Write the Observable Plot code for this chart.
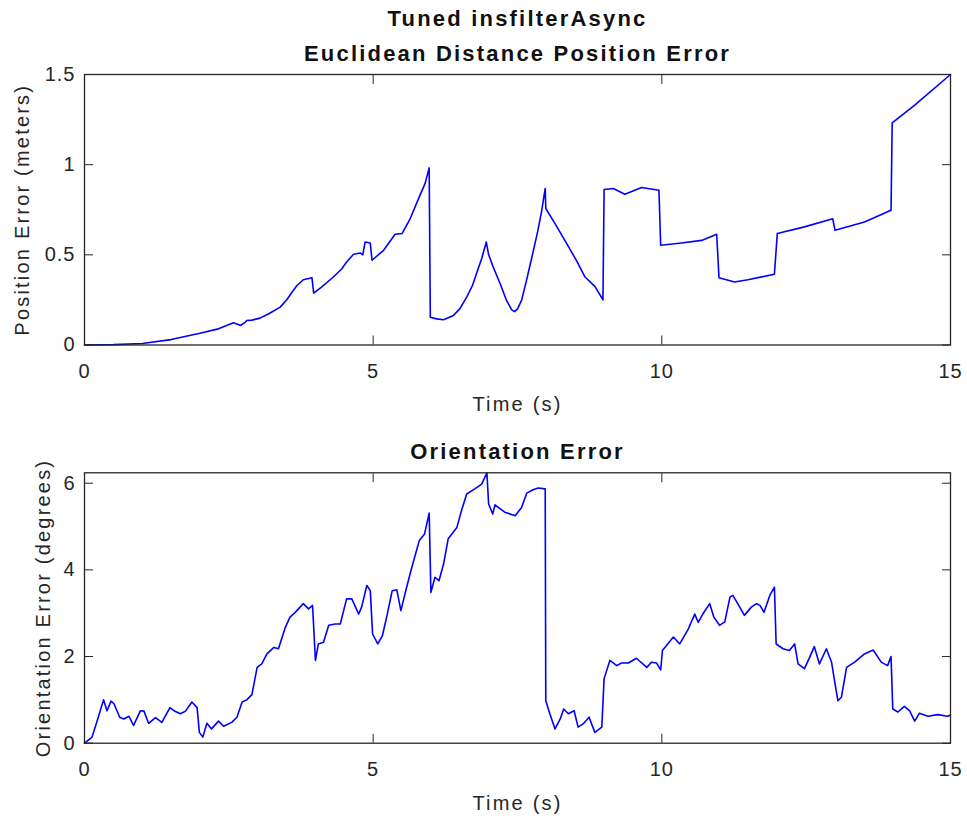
<!DOCTYPE html>
<html>
<head>
<meta charset="utf-8">
<script src="https://cdn.jsdelivr.net/npm/d3@7"></script>
<script src="https://cdn.jsdelivr.net/npm/@observablehq/plot@0.6"></script>
<style>
  html, body { margin: 0; padding: 0; background: #fff; }
  #chart { width: 967px; height: 818px; }
  #chart svg { display: block; }
</style>
</head>
<body>
<div id="chart"></div>
<script>
// ---- data ----
const suptitle = "Tuned insfilterAsync";
const posTitle = "Euclidean Distance Position Error";
const oriTitle = "Orientation Error";
const xLabel = "Time (s)";
const posLabel = "Position Error (meters)";
const oriLabel = "Orientation Error (degrees)";

const xTicks = [0, 5, 10, 15];
const posTicks = [0, 0.5, 1, 1.5];
const oriTicks = [0, 2, 4, 6];

const posTime = [0, 0.5, 1.0, 1.5, 2.0, 2.3, 2.58, 2.65, 2.70, 2.78, 2.81, 2.9, 3.04, 3.2, 3.39, 3.5, 3.6, 3.68, 3.79, 3.94, 3.97, 4.1, 4.31, 4.45, 4.54, 4.66, 4.78, 4.82, 4.86, 4.95, 4.98, 5.18, 5.38, 5.50, 5.64, 5.81, 5.90, 5.97, 5.99, 6.1, 6.22, 6.39, 6.5, 6.62, 6.72, 6.79, 6.88, 6.96, 7.0, 7.08, 7.2, 7.31, 7.4, 7.45, 7.5, 7.57, 7.65, 7.75, 7.85, 7.92, 7.98, 7.99, 8.15, 8.32, 8.52, 8.67, 8.84, 8.98, 9.00, 9.16, 9.36, 9.65, 9.95, 9.98, 10.34, 10.69, 10.95, 10.99, 11.26, 11.49, 11.95, 12.00, 12.47, 12.96, 13.00, 13.51, 13.97, 13.99, 14.38, 15.00];
const posErr = [0, 0.002, 0.008, 0.03, 0.065, 0.088, 0.123, 0.115, 0.108, 0.125, 0.136, 0.138, 0.149, 0.175, 0.21, 0.25, 0.295, 0.33, 0.362, 0.373, 0.288, 0.32, 0.377, 0.42, 0.46, 0.503, 0.51, 0.50, 0.571, 0.566, 0.47, 0.525, 0.614, 0.618, 0.70, 0.83, 0.896, 0.982, 0.154, 0.145, 0.14, 0.164, 0.20, 0.266, 0.33, 0.396, 0.48, 0.571, 0.50, 0.432, 0.34, 0.247, 0.195, 0.185, 0.20, 0.247, 0.35, 0.488, 0.63, 0.747, 0.868, 0.757, 0.673, 0.58, 0.469, 0.377, 0.325, 0.251, 0.862, 0.868, 0.836, 0.873, 0.858, 0.553, 0.566, 0.58, 0.614, 0.373, 0.349, 0.362, 0.392, 0.618, 0.655, 0.70, 0.636, 0.682, 0.747, 1.232, 1.33, 1.5];

const oriTime = [0, 0.13, 0.22, 0.33, 0.39, 0.46, 0.51, 0.61, 0.68, 0.77, 0.85, 0.97, 1.03, 1.11, 1.23, 1.34, 1.48, 1.55, 1.66, 1.75, 1.86, 1.95, 1.99, 2.05, 2.12, 2.20, 2.32, 2.41, 2.55, 2.64, 2.73, 2.81, 2.90, 2.99, 3.07, 3.16, 3.28, 3.36, 3.48, 3.56, 3.65, 3.79, 3.88, 3.95, 4.00, 4.05, 4.14, 4.23, 4.34, 4.43, 4.54, 4.63, 4.75, 4.80, 4.89, 4.95, 4.99, 5.08, 5.16, 5.24, 5.33, 5.41, 5.48, 5.58, 5.67, 5.80, 5.89, 5.97, 6.00, 6.07, 6.14, 6.22, 6.30, 6.45, 6.53, 6.62, 6.76, 6.88, 6.97, 7.00, 7.07, 7.11, 7.28, 7.46, 7.57, 7.66, 7.77, 7.86, 7.98, 7.99, 8.06, 8.15, 8.24, 8.30, 8.38, 8.48, 8.55, 8.64, 8.74, 8.84, 8.96, 9.00, 9.10, 9.22, 9.30, 9.42, 9.56, 9.74, 9.82, 9.91, 9.98, 10.01, 10.20, 10.31, 10.46, 10.57, 10.63, 10.71, 10.83, 10.90, 11.00, 11.09, 11.18, 11.23, 11.35, 11.43, 11.55, 11.64, 11.70, 11.77, 11.87, 11.95, 11.98, 12.10, 12.21, 12.30, 12.36, 12.47, 12.56, 12.64, 12.73, 12.85, 12.94, 13.00, 13.05, 13.11, 13.20, 13.34, 13.51, 13.66, 13.80, 13.91, 13.97, 14.00, 14.09, 14.20, 14.29, 14.38, 14.46, 14.61, 14.78, 14.95, 15.00];
const oriErr = [0, 0.14, 0.52, 1.0, 0.75, 0.97, 0.91, 0.60, 0.56, 0.62, 0.41, 0.75, 0.74, 0.46, 0.59, 0.48, 0.82, 0.75, 0.68, 0.74, 0.95, 0.82, 0.25, 0.14, 0.46, 0.33, 0.51, 0.39, 0.48, 0.60, 0.95, 1.0, 1.12, 1.75, 1.83, 2.06, 2.21, 2.18, 2.68, 2.91, 3.02, 3.22, 3.10, 3.18, 1.91, 2.29, 2.33, 2.72, 2.75, 2.75, 3.33, 3.33, 2.98, 3.14, 3.64, 3.52, 2.52, 2.29, 2.48, 2.95, 3.52, 3.54, 3.06, 3.60, 4.06, 4.68, 4.83, 5.31, 3.48, 3.83, 3.75, 4.14, 4.72, 4.98, 5.37, 5.75, 5.87, 5.98, 6.24, 5.52, 5.29, 5.50, 5.33, 5.25, 5.44, 5.77, 5.85, 5.89, 5.87, 0.98, 0.68, 0.33, 0.56, 0.79, 0.68, 0.75, 0.37, 0.45, 0.60, 0.25, 0.37, 1.49, 1.91, 1.79, 1.85, 1.85, 1.96, 1.75, 1.87, 1.85, 1.69, 2.14, 2.45, 2.29, 2.64, 2.98, 2.79, 2.98, 3.22, 2.91, 2.72, 2.80, 3.37, 3.41, 3.14, 2.95, 3.14, 3.22, 3.18, 3.02, 3.41, 3.60, 2.29, 2.18, 2.14, 2.29, 1.83, 1.72, 1.98, 2.23, 1.83, 2.18, 1.87, 1.37, 0.98, 1.06, 1.75, 1.87, 2.06, 2.15, 1.87, 1.79, 2.00, 0.79, 0.72, 0.85, 0.75, 0.51, 0.69, 0.62, 0.66, 0.62, 0.65];

// ---- styling ----
const axisColor = "#262626";
const lineColor = "#0000ff";
const font = "'Liberation Sans', Arial, Helvetica, sans-serif";
const tickFont = 20;
const titleFont = 22;

const posData = posTime.map((t, i) => ({t, v: posErr[i]}));
const oriData = oriTime.map((t, i) => ({t, v: oriErr[i]}));

function panel({data, yTicks, yLabel, titles, height, marginTop, marginBottom, yLabelDx, xLabelDy}) {
  const fmt = d => String(d);
  const marks = [
    Plot.line(data, {x: "t", y: "v", stroke: lineColor, strokeWidth: 1.6}),
    Plot.frame({stroke: axisColor, strokeWidth: 1.3}),
    Plot.axisX({ticks: xTicks, tickSize: -9, tickPadding: 28, tickFormat: fmt, label: null, stroke: axisColor, fill: axisColor}),
    Plot.axisX({anchor: "top", ticks: xTicks, tickSize: -9, tickFormat: () => "", label: null, stroke: axisColor}),
    Plot.axisY({ticks: yTicks, tickSize: -9, tickPadding: 18, tickFormat: fmt, label: null, stroke: axisColor, fill: axisColor}),
    Plot.axisY({anchor: "right", ticks: yTicks, tickSize: -9, tickFormat: () => "", label: null, stroke: axisColor}),
    Plot.text([xLabel], {text: d => d, frameAnchor: "bottom", dy: xLabelDy, lineAnchor: "middle", fontSize: tickFont, fill: axisColor}),
    Plot.text([yLabel], {text: d => d, frameAnchor: "left", dx: yLabelDx, rotate: -90, textAnchor: "middle", lineAnchor: "middle", fontSize: tickFont, fill: axisColor})
  ];
  titles.forEach(({text, dy}) => {
    marks.push(Plot.text([text], {text: d => d, frameAnchor: "top", dy, lineAnchor: "middle", fontSize: titleFont, fontWeight: "bold", fill: "#111"}));
  });
  const svg = Plot.plot({
    width: 967,
    height,
    marginLeft: 84,
    marginRight: 17,
    marginTop,
    marginBottom,
    style: {fontFamily: font, fontSize: tickFont + "px", color: axisColor, background: "#fff", overflow: "visible"},
    x: {domain: d3.extent(xTicks)},
    y: {domain: d3.extent(data, d => d.v)},
    marks
  });
  // MATLAB-like wide letter spacing
  d3.select(svg).selectAll("g[aria-label='text'] text").style("letter-spacing", "2.2px");
  d3.select(svg).selectAll("g[aria-label$='tick label'] text").style("letter-spacing", "1px");
  return svg;
}

const topPanel = panel({
  data: posData,
  yTicks: posTicks,
  yLabel: posLabel,
  titles: [{text: suptitle, dy: -56}, {text: posTitle, dy: -21}],
  height: 420,
  marginTop: 74,
  marginBottom: 75.5,
  yLabelDx: -62,
  xLabelDy: 60
});
const bottomPanel = panel({
  data: oriData,
  yTicks: oriTicks,
  yLabel: oriLabel,
  titles: [{text: oriTitle, dy: -21}],
  height: 398,
  marginTop: 52.3,
  marginBottom: 75.3,
  yLabelDx: -41,
  xLabelDy: 60
});
const chart = document.getElementById("chart");
chart.appendChild(topPanel);
chart.appendChild(bottomPanel);
</script>
</body>
</html>
